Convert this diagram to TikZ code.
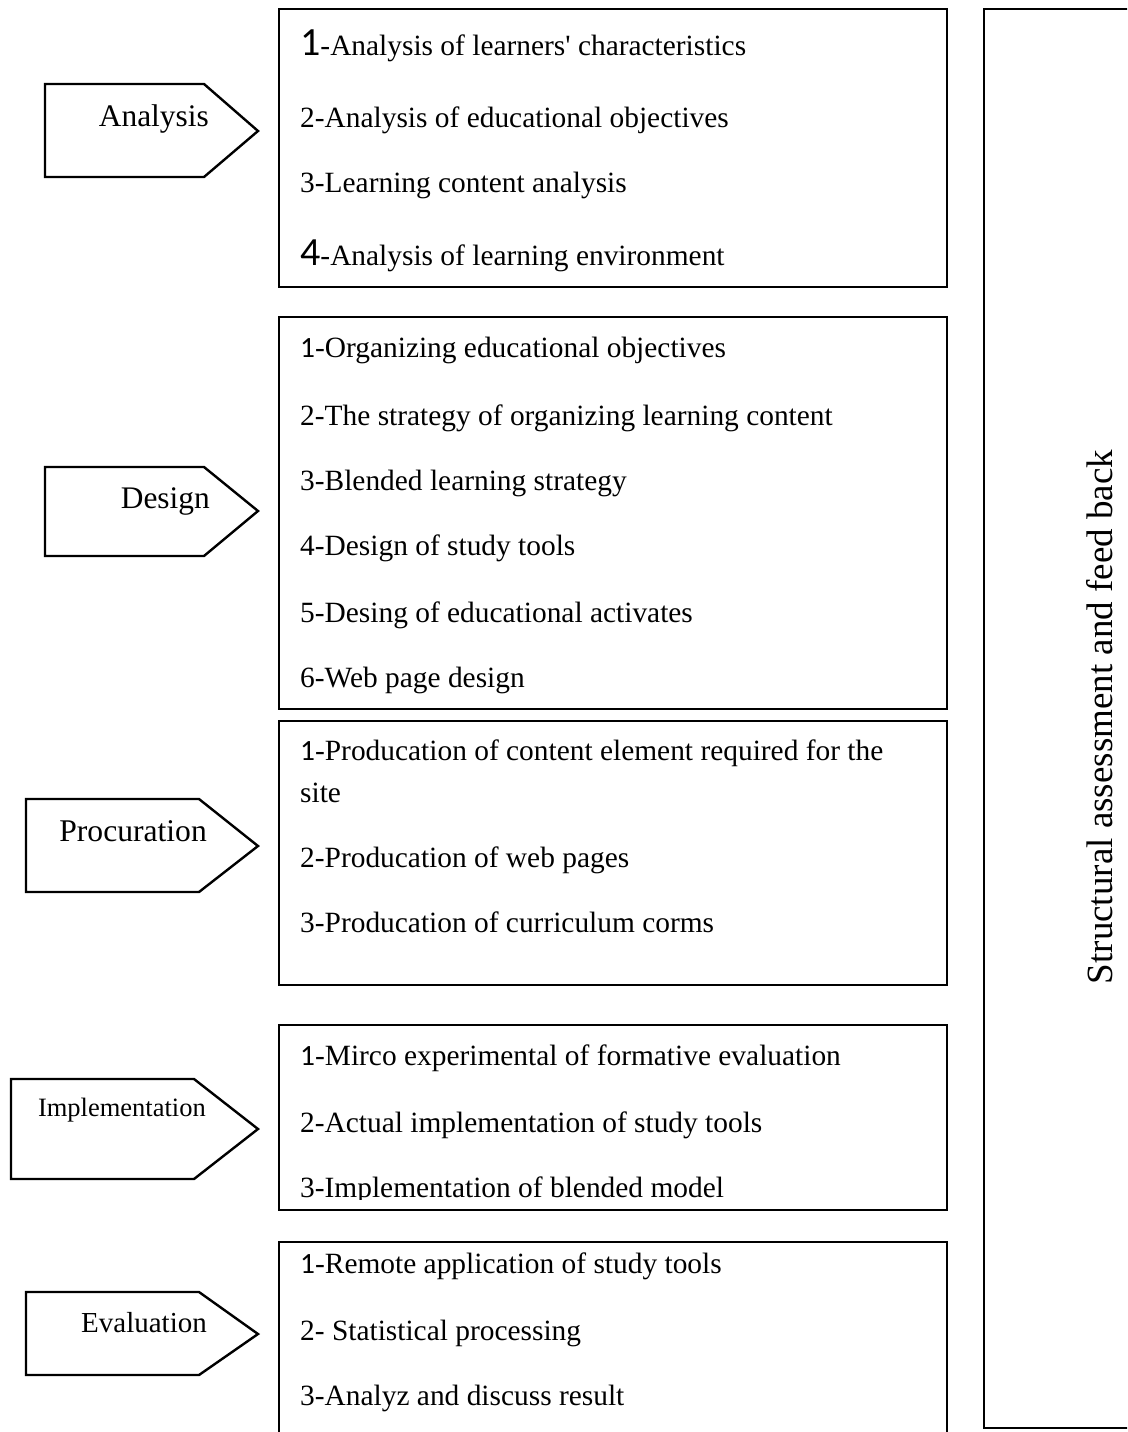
\documentclass[tikz,border=0pt]{standalone}
\usepackage{fontspec}
\setmainfont{Liberation Serif}[Ligatures=TeXOff]
\newfontfamily\digitfont{Carlito}
\newcommand\bigdg[1]{{\fontsize{40}{40}\digitfont #1}}
\newcommand\dg[1]{{\digitfont #1}}

\tikzset{
  frame/.style={draw=black, line width=2.6pt},
  tagshape/.style={draw=black, line width=2.4pt, line join=miter, fill=white},
  item/.style={anchor=base west, inner sep=0pt, font=\fontsize{29.4}{35}\selectfont},
  taglabel/.style={anchor=base east, inner sep=0pt},
}

\begin{document}
\begin{tikzpicture}[x=1pt, y=-1pt]
  % page area
  \clip (0,0) rectangle (1127,1432);
  \fill[white] (0,0) rectangle (1127,1432);

  % ---------- phase tags ----------
  \draw[tagshape] (45,84) -- (204,84) -- (258,131) -- (204,177) -- (45,177) -- cycle;
  \node[taglabel, font=\fontsize{31.4}{36}\selectfont] (tagA) at (209,126) {Analysis};

  \draw[tagshape] (45,467) -- (204,467) -- (258,511) -- (204,556) -- (45,556) -- cycle;
  \node[taglabel, font=\fontsize{31.4}{36}\selectfont] (tagD) at (210,508) {Design};

  \draw[tagshape] (26,799) -- (199,799) -- (258,846) -- (199,892) -- (26,892) -- cycle;
  \node[taglabel, font=\fontsize{31.6}{36}\selectfont] (tagP) at (207,841) {Procuration};

  \draw[tagshape] (11,1079) -- (194,1079) -- (258,1129) -- (194,1179) -- (11,1179) -- cycle;
  \node[taglabel, font=\fontsize{26.5}{30}\selectfont] (tagI) at (206,1116) {Implementation};

  \draw[tagshape] (26,1292) -- (199,1292) -- (258,1334) -- (199,1375) -- (26,1375) -- cycle;
  \node[taglabel, font=\fontsize{29}{34}\selectfont] (tagE) at (207,1332) {Evaluation};

  % ---------- Analysis steps ----------
  \node[item] (a1) at (300,55)  {\bigdg{1}-Analysis of learners' characteristics};
  \node[item] (a2) at (300,127) {2-Analysis of educational objectives};
  \node[item] (a3) at (300,192) {3-Learning content analysis};
  \node[item] (a4) at (300,265) {\bigdg{4}-Analysis of learning environment};
  \draw[frame] (279,9) rectangle (947,287);

  % ---------- Design steps ----------
  \node[item] (d1) at (300,357) {\dg{1}-Organizing educational objectives};
  \node[item] (d2) at (300,425) {2-The strategy of organizing learning content};
  \node[item] (d3) at (300,490) {3-Blended learning strategy};
  \node[item] (d4) at (300,555) {4-Design of study tools};
  \node[item] (d5) at (300,622) {5-Desing of educational activates};
  \node[item] (d6) at (300,687) {6-Web page design};
  \draw[frame] (279,317) rectangle (947,709);

  % ---------- Procuration steps ----------
  \node[item] (p1) at (300,760) {\dg{1}-Producation of content element required for the};
  \node[item] (p1b) at (300,802) {site};
  \node[item] (p2) at (300,867) {2-Producation of web pages};
  \node[item] (p3) at (300,932) {3-Producation of curriculum corms};
  \draw[frame] (279,721) rectangle (947,985);

  % ---------- Implementation steps (last line cut by the frame) ----------
  \begin{scope}
    \clip (279,1025) rectangle (947,1199);
    \node[item] (i1) at (300,1065) {\dg{1}-Mirco experimental of formative evaluation};
    \node[item] (i2) at (300,1132) {2-Actual implementation of study tools};
    \node[item] (i3) at (300,1197) {3-Implementation of blended model};
  \end{scope}
  \draw[frame] (279,1025) rectangle (947,1210);

  % ---------- Evaluation steps ----------
  \node[item] (e1) at (300,1273) {\dg{1}-Remote application of study tools};
  \node[item] (e2) at (300,1340) {2- Statistical processing};
  \node[item] (e3) at (300,1405) {3-Analyz and discuss result};
  \draw[frame] (279,1242) rectangle (947,1460);

  % ---------- feedback column ----------
  \draw[frame] (984,9) rectangle (1160,1428);
  \node[anchor=base, rotate=90, inner sep=0pt, font=\fontsize{37}{40}\selectfont]
    (fb) at (1112,717) {Structural assessment and feed back};
\end{tikzpicture}
\end{document}
